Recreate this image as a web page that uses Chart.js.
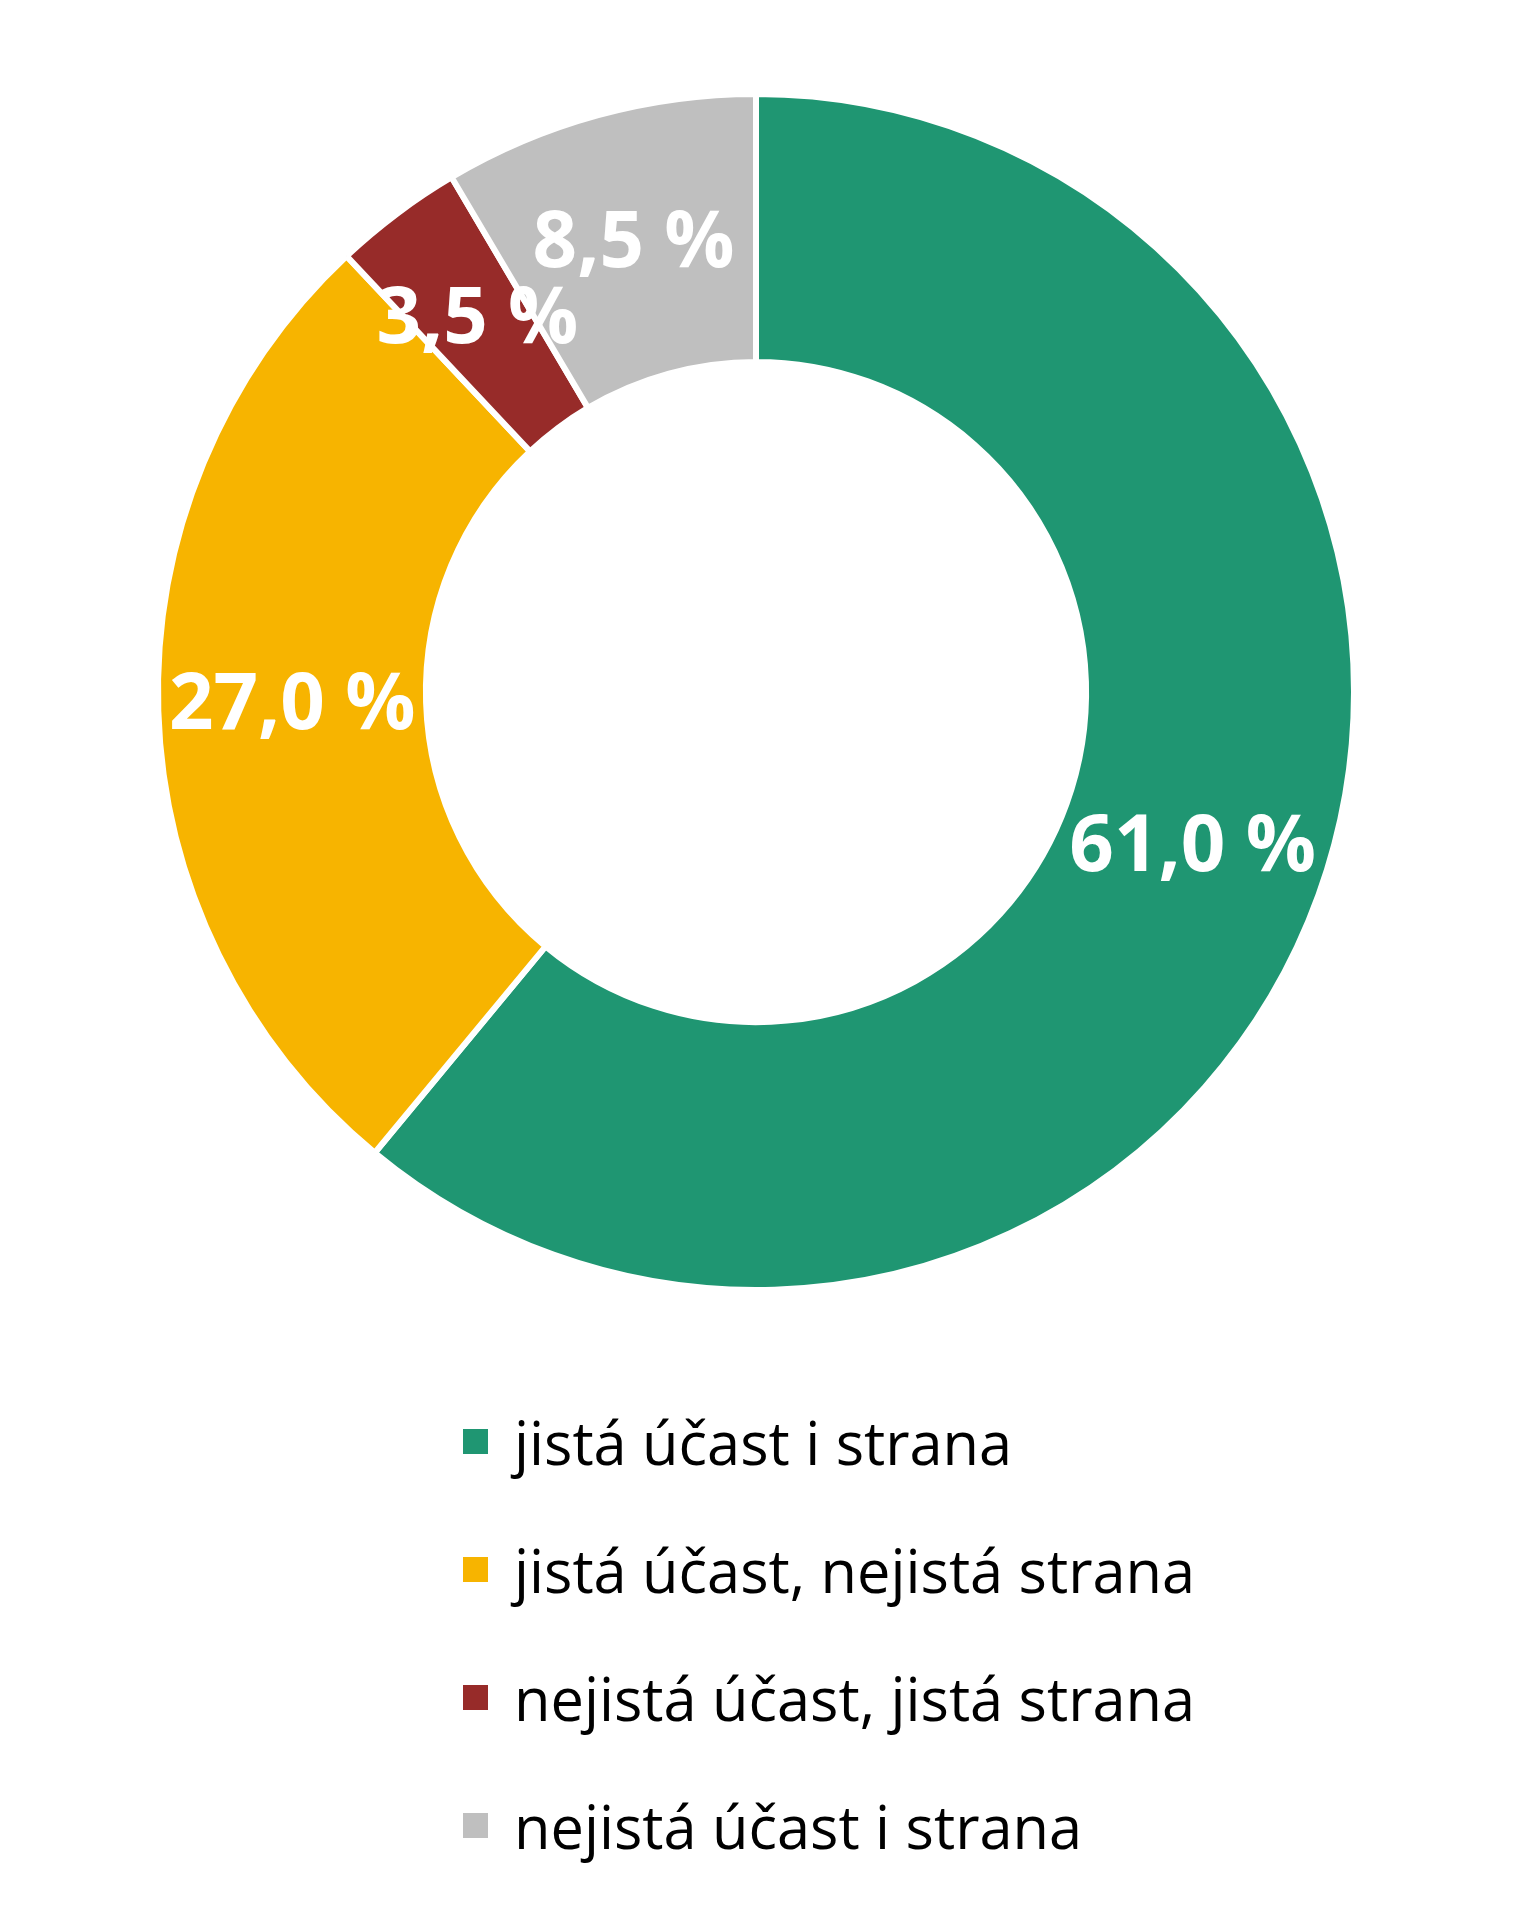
<!DOCTYPE html>
<html><head><meta charset="utf-8">
<script src="https://cdn.jsdelivr.net/npm/chart.js@4"></script>
<style>
html,body{margin:0;padding:0;background:#fff;}
#wrap{position:relative;width:1534px;height:1920px;overflow:hidden;}
#c{position:absolute;left:0;top:0;}
#legend{position:absolute;left:463px;top:0;font-family:"Open Sans";font-size:59.5px;color:#000;}
.item{position:absolute;left:0;height:80px;display:flex;align-items:center;white-space:nowrap;}
.box{width:25px;height:25px;margin-right:26px;flex:none;}
</style></head>
<body>
<div id="wrap">
<canvas id="c" width="1534" height="1920"></canvas>
<div id="legend"></div>
</div>
<script>
const categories = ["jistá účast i strana", "jistá účast, nejistá strana", "nejistá účast, jistá strana", "nejistá účast i strana"];
const shares = [61.0, 27.0, 3.5, 8.5];
const sliceColors = ["#1F9672", "#F7B400", "#972B29", "#BFBFBF"];

const fmt = v => v.toFixed(1).replace('.', ',') + ' %';

const labelPlugin = {
  id: 'sliceLabels',
  afterDatasetsDraw(chart) {
    const ctx = chart.ctx;
    const meta = chart.getDatasetMeta(0);
    ctx.save();
    ctx.font = 'bold 78px "Open Sans"';
    ctx.fillStyle = '#ffffff';
    ctx.textAlign = 'center';
    ctx.textBaseline = 'middle';
    meta.data.forEach((arc, i) => {
      const p = arc.tooltipPosition();
      ctx.fillText(fmt(chart.data.datasets[0].data[i]), p.x, p.y);
    });
    ctx.restore();
  }
};

new Chart(document.getElementById('c'), {
  type: 'doughnut',
  data: {
    labels: categories,
    datasets: [{
      data: shares,
      backgroundColor: sliceColors,
      borderColor: '#ffffff',
      borderWidth: 6
    }]
  },
  options: {
    responsive: false,
    animation: false,
    radius: 598,
    cutout: '55.2%',
    layout: { padding: { left: 0, right: 22, top: 0, bottom: 536 } },
    plugins: { legend: { display: false }, tooltip: { enabled: false } }
  },
  plugins: [labelPlugin]
});

const legend = document.getElementById('legend');
categories.forEach((name, i) => {
  const item = document.createElement('div');
  item.className = 'item';
  item.style.top = (1401 + i * 128) + 'px';
  const box = document.createElement('div');
  box.className = 'box';
  box.style.background = sliceColors[i];
  const txt = document.createElement('span');
  txt.textContent = name;
  item.appendChild(box);
  item.appendChild(txt);
  legend.appendChild(item);
});
</script>
</body></html>
